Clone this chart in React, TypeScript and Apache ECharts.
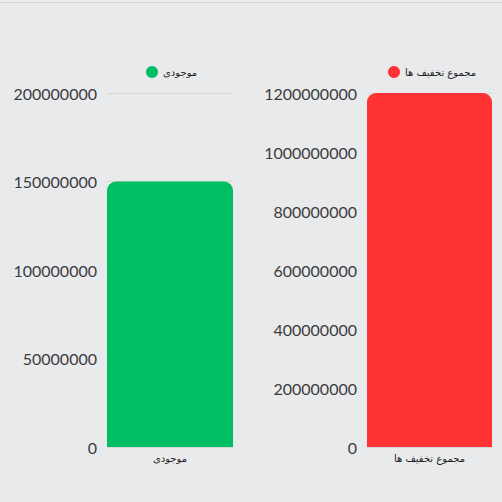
import React, { useEffect, useRef } from 'react';
import * as echarts from 'echarts';

const categories = ['موجودی', 'مجموع تخفیف ها'];
const stockValues = [150000000];
const discountValues = [1200000000];
const stockAxis = { min: 0, max: 200000000, interval: 50000000 };
const discountAxis = { min: 0, max: 1200000000, interval: 200000000 };
const colors = ['#00bf63', '#ff3333'];

const App: React.FC = () => {
  const chartRef = useRef<HTMLDivElement>(null);

  useEffect(() => {
    if (!chartRef.current) return;
    const chart = echarts.init(chartRef.current, undefined, { renderer: 'svg' });

    // plain numbers, no thousands separators
    const axisLabel = {
      color: '#3c3c3c', fontSize: 16, fontFamily: 'Lato', margin: 10,
      formatter: (v: number) => String(v),
    };
    const catLabel = { color: '#222', fontSize: 10, fontFamily: 'DejaVu Sans', margin: 6 };
    const legendText = { fontSize: 10, fontFamily: 'DejaVu Sans', color: '#222' };

    const option: echarts.EChartsOption = {
      animation: false,
      backgroundColor: '#e9eaec',
      legend: [
        {
          data: [categories[0]], left: 141, top: 61,
          itemWidth: 12, itemHeight: 12, itemGap: 6, icon: 'circle', textStyle: legendText,
        },
        {
          data: [categories[1]], left: 383, top: 61,
          itemWidth: 12, itemHeight: 12, itemGap: 6, icon: 'circle', textStyle: legendText,
        },
      ],
      grid: [
        { left: 107, width: 126, top: 93, height: 354 },
        { left: 367, width: 125, top: 93, height: 354 },
      ],
      xAxis: [
        {
          type: 'category', gridIndex: 0, data: [categories[0]],
          axisLine: { show: false }, axisTick: { show: false }, axisLabel: catLabel,
        },
        {
          type: 'category', gridIndex: 1, data: [categories[1]],
          axisLine: { show: false }, axisTick: { show: false }, axisLabel: catLabel,
        },
      ],
      yAxis: [
        {
          type: 'value', gridIndex: 0, ...stockAxis,
          axisLabel, axisLine: { show: false }, axisTick: { show: false },
          splitLine: { lineStyle: { color: '#d6d7d9' } },
        },
        {
          type: 'value', gridIndex: 1, ...discountAxis,
          axisLabel, axisLine: { show: false }, axisTick: { show: false },
          splitLine: { lineStyle: { color: '#d6d7d9' } },
        },
      ],
      series: [
        {
          name: categories[0], type: 'bar', xAxisIndex: 0, yAxisIndex: 0,
          data: stockValues, barWidth: '100%',
          itemStyle: { color: colors[0], borderRadius: [9, 9, 0, 0] },
        },
        {
          name: categories[1], type: 'bar', xAxisIndex: 1, yAxisIndex: 1,
          data: discountValues, barWidth: '100%',
          itemStyle: { color: colors[1], borderRadius: [9, 9, 0, 0] },
        },
      ],
    };

    chart.setOption(option);
    return () => chart.dispose();
  }, []);

  return (
    <div style={{ position: 'fixed', left: 0, top: 0, width: 502, height: 502, background: '#e9eaec' }}>
      <div ref={chartRef} style={{ width: 502, height: 502 }} />
      <div style={{ position: 'absolute', left: 0, top: 2, width: 502, height: 1, background: '#d4d5d7' }} />
    </div>
  );
};

export default App;
